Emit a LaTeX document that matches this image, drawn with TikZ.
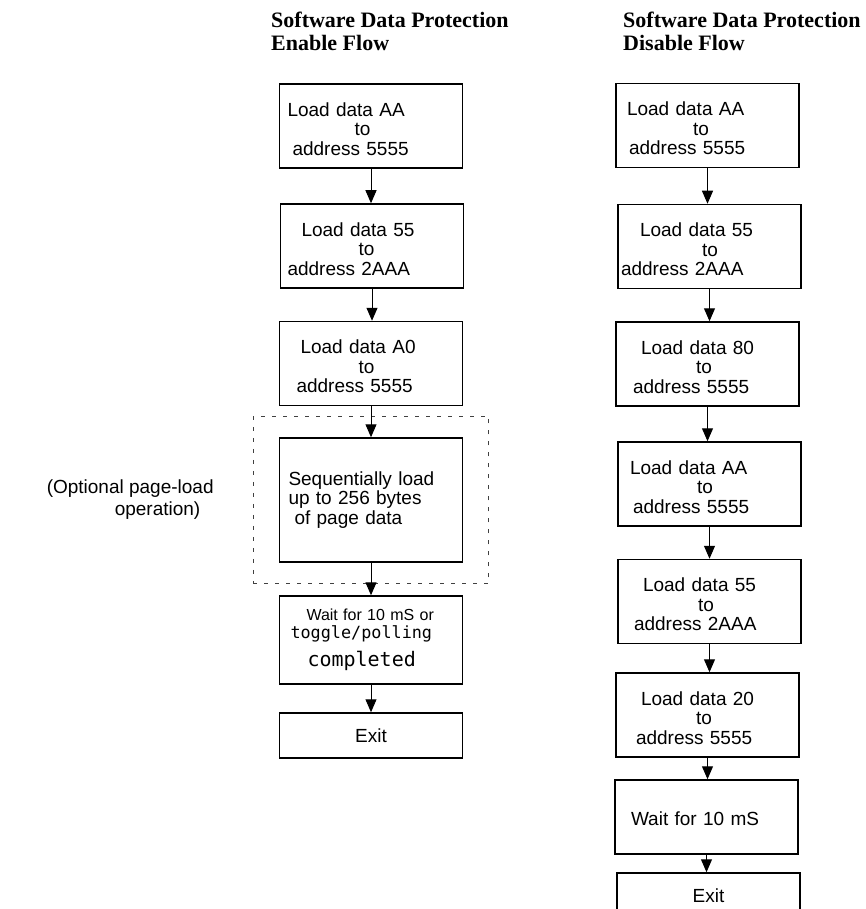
\documentclass[tikz,border=0pt]{standalone}
\usepackage{fontspec}
\setmainfont{Liberation Sans}
\newfontfamily\titlefont{Liberation Serif}
\newfontfamily\monofont{DejaVu Sans Mono}
\usetikzlibrary{arrows.meta,positioning,fit}
\tikzstyle{flowbox}=[draw,rectangle,line width=1.5pt,minimum width=183pt,text width=183pt,minimum height=84pt,inner xsep=0pt,inner ysep=0pt,align=left,font=\fontsize{19}{19.5}\selectfont]
\tikzstyle{edge} = [draw,line width=1pt,-{Triangle[length=13pt,width=11pt]}]
\tikzstyle{optbox}=[draw,line width=0.8pt,black!75,dash pattern=on 4pt off 7pt,inner xsep=25.5pt,inner ysep=21pt]
\tikzstyle{title}=[anchor=north west,inner sep=0pt,align=left,font=\titlefont\bfseries\fontsize{22}{23}\selectfont]
\newcommand{\loadtext}[5]{\rule{0pt}{20pt}\hspace*{#3pt}Load data #1\\\hspace*{#4pt}to\\\hspace*{#5pt}address #2}

\begin{document}
\begin{tikzpicture}[x=1pt,y=-1pt]
    \useasboundingbox (0,0) rectangle (866,909);
    \clip (0,0) rectangle (866,909);
    % Titles of the two flows
    \node[title] (entitle) at (271,12) {Software Data Protection\\Enable Flow};
    \node[title] (distitle) at (623,12) {Software Data Protection\\Disable Flow};
    % Draw the enable flow
    % First we draw the load boxes
    \foreach \pos/\name/\txt in {{(371,126)/L1/\loadtext{AA}{5555}{8}{75}{13}},
        {(372,246)/L2/\loadtext{55}{2AAA}{21}{78}{7}},
        {(371,363.5)/L3/\loadtext{A0}{5555}{21}{79}{17}}}
        \node[flowbox] (\name) at \pos {\txt};
    \node[flowbox,minimum height=124pt] (L4) at (371,500)
        {\hspace*{9pt}Sequentially load\\\hspace*{9pt}up to 256 bytes\\\hspace*{15pt}of page data};
    \node[flowbox,minimum height=88pt,font=\fontsize{16}{18}\selectfont] (L5) at (371,640)
        {\hspace*{27pt}Wait for 10 mS or\\\hspace*{11pt}{\monofont\fontsize{16.8}{18}\selectfont toggle/polling}\\[8pt]\hspace*{28pt}{\monofont\fontsize{20}{18}\selectfont completed}};
    \node[flowbox,minimum height=45pt,align=center] (L6) at (371,735.5) {Exit};
    % The optional page-load part
    \node[optbox,fit=(L4)] (optional) {};
    \node[inner sep=0pt,align=left,font=\fontsize{19}{22}\selectfont,left=39pt of optional.west] (optlabel)
        {(Optional page-load\\\hspace*{68pt}operation)};
    % Draw the disable flow
    \foreach \pos/\name/\txt in {{(707.5,125.5)/R1/\loadtext{AA}{5555}{11}{77}{13}},
        {(709.5,246.5)/R2/\loadtext{55}{2AAA}{22}{84}{3}},
        {(707.5,364)/R3/\loadtext{80}{5555}{25}{80}{17}},
        {(709.5,484)/R4/\loadtext{AA}{5555}{12}{79}{15}},
        {(709.5,601.5)/R5/\loadtext{55}{2AAA}{25}{80}{16}},
        {(707.5,715)/R6/\loadtext{20}{5555}{25}{80}{20}}}
        \node[flowbox] (\name) at \pos {\txt};
    \node[flowbox,minimum height=74pt] (R7) at (706.5,817) {\rule{0pt}{18pt}\hspace*{16pt}Wait for 10 mS};
    \node[flowbox,minimum height=45pt,align=center] (R8) at (708.5,895.5) {Exit};
    % Connect boxes with arrows
    \foreach \source/ \dest in {L1/L2, L2/L3, L3/L4, L4/L5, L5/L6,
        R1/R2, R2/R3, R3/R4, R4/R5, R5/R6, R6/R7, R7/R8}
        \path[edge] (\source.south) -- (\source.south |- \dest.north);
\end{tikzpicture}
\end{document}
